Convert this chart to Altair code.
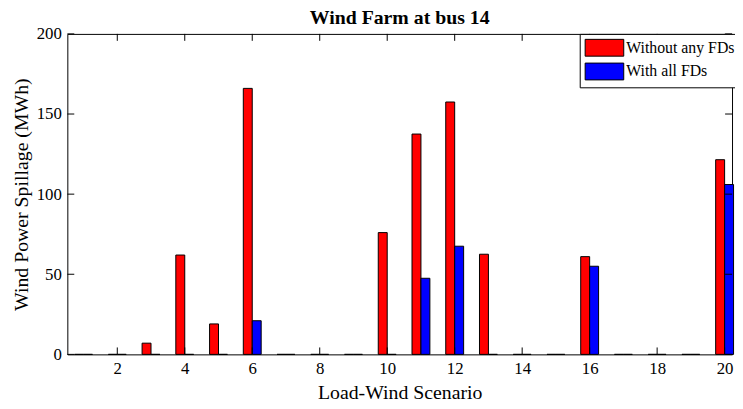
import altair as alt
import pandas as pd

scenarios = list(range(1, 21))
without_fds = [0, 0, 7, 62, 19, 166, 0, 0, 0, 76, 137.5, 157.5, 62.5, 0, 0, 61, 0, 0, 0, 121.5]
with_fds = [0, 0, 0, 0, 0, 21, 0, 0, 0, 0, 47.5, 67.5, 0, 0, 0, 55, 0, 0, 0, 106]
series_names = ["Without any FDs", "With all FDs"]
series_colors = ["#ff0000", "#0000ff"]
x_ticks = [2, 4, 6, 8, 10, 12, 14, 16, 18, 20]
y_ticks = [0, 50, 100, 150, 200]

BW = 0.265
rows = []
for s, a, b in zip(scenarios, without_fds, with_fds):
    rows.append({"scenario": s, "series": series_names[0], "value": a, "x0": s - BW, "x1": s, "base": 0})
    rows.append({"scenario": s, "series": series_names[1], "value": b, "x0": s, "x1": s + BW, "base": 0})
df = pd.DataFrame(rows)

FONT = "Liberation Serif"
W, H = 672, 324
xscale = alt.Scale(domain=[0.52, 20.22], nice=False, zero=False)
yscale = alt.Scale(domain=[0, 200], nice=False, zero=False)

bars = alt.Chart(df).mark_rect(stroke="black", strokeWidth=1).encode(
    x=alt.X("x0:Q", scale=xscale,
            axis=alt.Axis(values=x_ticks, title="Load-Wind Scenario", ticks=False, grid=False,
                          labelPadding=6, titlePadding=7, domain=False,
                          labelFont=FONT, labelFontSize=17, labelColor="black",
                          titleFont=FONT, titleFontSize=20, titleFontWeight="normal",
                          titleColor="black")),
    x2="x1:Q",
    y=alt.Y("value:Q", scale=yscale,
            axis=alt.Axis(values=y_ticks, title="Wind Power Spillage (MWh)", ticks=False, grid=False,
                          labelPadding=6, titlePadding=5, domain=False,
                          labelFont=FONT, labelFontSize=17, labelColor="black",
                          titleFont=FONT, titleFontSize=20, titleFontWeight="normal",
                          titleColor="black")),
    y2="base:Q",
    color=alt.Color("series:N", scale=alt.Scale(domain=series_names, range=series_colors),
                    sort=series_names,
                    legend=alt.Legend(title=None, orient="none", legendX=518, legendY=0,
                                      strokeColor="black", fillColor="white", padding=5,
                                      symbolType="M-1,-1L3.59,-1L3.59,1L-1,1Z",
                                      symbolSize=289, symbolStrokeColor="black", symbolStrokeWidth=1,
                                      symbolOpacity=1, labelFont=FONT, labelFontSize=16,
                                      labelColor="black", rowPadding=2, labelOffset=24,
                                      cornerRadius=0)),
)

xt = pd.DataFrame({"t": x_ticks})
yt = pd.DataFrame({"t": y_ticks})
TL = 7
bottom_ticks = alt.Chart(xt).mark_rule(color="black").encode(
    x=alt.X("t:Q", scale=xscale), y=alt.value(H), y2=alt.value(H - TL))
top_ticks = alt.Chart(xt).mark_rule(color="black").encode(
    x=alt.X("t:Q", scale=xscale), y=alt.value(0), y2=alt.value(TL))
left_ticks = alt.Chart(yt).mark_rule(color="black").encode(
    y=alt.Y("t:Q", scale=yscale), x=alt.value(0), x2=alt.value(TL))
right_ticks = alt.Chart(yt).mark_rule(color="black").encode(
    y=alt.Y("t:Q", scale=yscale), x=alt.value(W), x2=alt.value(W - TL))

chart = alt.layer(bars, bottom_ticks, top_ticks, left_ticks, right_ticks).properties(
    width=W, height=H,
    title=alt.TitleParams("Wind Farm at bus 14", font=FONT, fontSize=20, fontWeight="bold",
                          anchor="middle", offset=2, dy=5, color="black"),
    autosize=alt.AutoSizeParams(type="none"),
    padding={"left": 60, "top": 24, "right": 3, "bottom": 50},
    background="white",
).configure_view(stroke="black", strokeWidth=1)

chart.save("out.html", embed_options={"renderer": "svg", "actions": False})
